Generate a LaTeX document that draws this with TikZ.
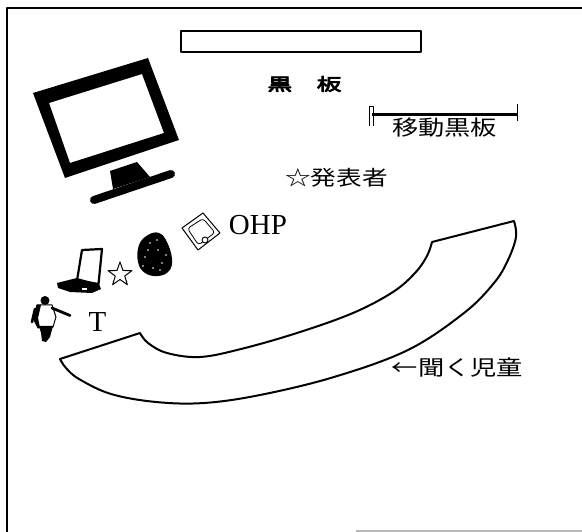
\documentclass[tikz,border=0pt]{standalone}
\usepackage{fontspec}
\setmainfont{Liberation Serif}
\newfontfamily\jpfont{Noto Sans CJK JP}[FakeStretch=1.25]
\newfontfamily\jpheavy{Noto Sans CJK JP}[FakeStretch=1.45,FakeBold=5]
\usetikzlibrary{shapes.geometric}
\begin{document}
\begin{tikzpicture}[x=1pt,y=-1pt,line join=round]
\tikzset{
  ink/.style={line width=2pt},
  arcline/.style={line width=2pt},
  jplabel/.style={inner sep=0pt},
  latinlabel/.style={inner sep=0pt},
}
\useasboundingbox (0,0) rectangle (582,532);
\fill[white] (0,0) rectangle (582,532);

% room frame
\draw[line width=2.2pt] (7,532) -- (7,8) -- (582,8);
\draw[gray!55,line width=1.2pt] (356,531) -- (582,531);

% fixed blackboard
\node[draw,ink,minimum width=240,minimum height=21,inner sep=0pt] (board) at (301,41.5) {};
\node[jplabel,font={\jpheavy\fontsize{17}{17}\selectfont}] (boardlabel) at (304.5,84) {黒　板};

% movable blackboard
\draw[line width=3pt] (372,115) -- (518,115);
\draw[line width=0.9pt] (369,126) -- (369,106) -- (373,106) -- (373,126);
\draw[line width=1pt] (517.5,104) -- (517.5,121);
\node[jplabel,font={\jpfont\fontsize{21}{21}\selectfont}] (mobile) at (444.5,127.5) {移動黒板};

% presenter
\node[jplabel,font={\jpfont\fontsize{20.5}{20.5}\selectfont}] (presenter) at (336.5,178) {☆発表者};

% monitor
\fill[even odd rule] (33,93) -- (148,58) -- (179,140) -- (65,178) -- cycle
                     (49,103) -- (142,74) -- (164,133) -- (70,163) -- cycle;
\fill (110,171) -- (137,162) -- (150,177) -- (113,189) -- cycle;
\draw[line width=8pt,line cap=round] (94,200) -- (171,174);

% OHP
\draw[line width=1pt] (203,213) -- (220,233) -- (198,250) -- (182,228) -- cycle;
\draw[line width=0.8pt,rounded corners=3pt] (203,218.5) -- (215,232.5) -- (198.5,245) -- (187.5,228.5) -- cycle;
\draw[line width=0.9pt,fill=white] (205,240) circle (3);
\node[latinlabel,font=\fontsize{29}{29}\selectfont] (ohp) at (258,225) {OHP};

% document camera
\fill plot[smooth cycle,tension=0.7] coordinates {(139,245) (148,235) (159,233) (167,242) (172,259) (169,271) (158,276) (145,273) (138,262)};
\foreach \p in {(150,243),(158,250),(145,257),(162,263),(153,268),(166,255),(148,250),(157,240),(143,266),(160,270)}
  \fill[white] \p circle (0.8);

% star
\node[star,star points=5,star point ratio=2.5,draw,line width=1pt,minimum size=25,inner sep=0pt] (star) at (120,274.5) {};

% laptop
\draw[line width=2.2pt,fill=white] (82,250) -- (102,249) -- (98.5,284) -- (77,280.5) -- cycle;
\fill (57,283) -- (77,278) -- (99,284) -- (101,289) -- (92,293) -- (70,292) -- (58,288) -- cycle;
\fill[white] (82,288.5) rectangle (87,290.5);

% teacher
\fill (45,300.5) circle (4.5);
\draw[line width=1pt,fill=white] (37,305) -- (52,305) -- (56,317) -- (53,327) -- (38,328) -- (33,318) -- cycle;
\fill (37,305) -- (41,305) -- (38,318) -- (40,328) -- (38,328) -- (33,318) -- cycle;
\draw[line width=2.8pt,line cap=round] (52,308) -- (70,315.5);
\draw[line width=2.6pt,line cap=round] (35,309) -- (32,322);
\fill (39,326) -- (53,326) -- (50,337) -- (46,342) -- (42,341) -- (41,333) -- cycle;
\node[latinlabel,font=\fontsize{29}{29}\selectfont] (teacher) at (97.5,322) {T};

% seating area of the listening pupils
\draw[arcline] (514,221) -- (432,242)
  -- plot[smooth,tension=0.6] coordinates {(432,242) (427,256) (415,273) (393,292) (353,313) (297,333) (241,349) (200,357) (167,353) (148,343) (140,333)}
  -- (60,359)
  -- plot[smooth,tension=0.6] coordinates {(60,359) (66,368) (79,379) (111,394) (156,402) (204,403) (260,395) (334,377) (408,350) (464,313) (494,283) (508,260) (516,237) (514,221)}
  -- cycle;
\node[jplabel,font={\jpfont\fontsize{21}{21}\selectfont}] (pupils) at (457.5,367.5) {←聞く児童};
\end{tikzpicture}
\end{document}
